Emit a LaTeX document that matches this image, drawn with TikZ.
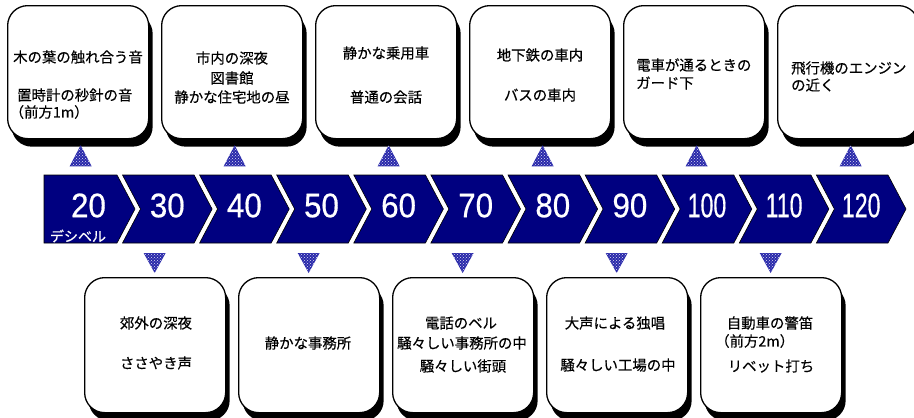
\documentclass[tikz,border=0pt]{standalone}
\usepackage{fontspec}
\newfontfamily\jp[FakeBold=0.35]{Noto Sans CJK JP}
\newfontfamily\numf[FakeBold=0.6]{Liberation Sans}
\usetikzlibrary{patterns,shadows,calc}
\definecolor{navy}{RGB}{0,0,128}
\definecolor{tricol}{RGB}{40,40,170}
\begin{document}
\begin{tikzpicture}[x=1pt,y=-1pt,
  sbox/.style={draw=black, line width=1.3pt, fill=white, rounded corners=20pt,
    minimum width=141pt, inner sep=0pt, anchor=north west,
    drop shadow={shadow xshift=4pt, shadow yshift=-8pt, fill=black, opacity=1}},
  topbox/.style={sbox, minimum height=133pt},
  botbox/.style={sbox, minimum height=135pt},
  chev/.style={fill=navy, draw=black, line width=0.6pt},
  num/.style={text=white, font=\numf\fontsize{34}{34}\selectfont, inner sep=0pt},
  lbl/.style={font=\jp\fontsize{14.4}{18}\selectfont, inner sep=0pt},
  lblw/.style={lbl, anchor=west},
  marker/.style={preaction={fill=tricol}, pattern=crosshatch dots, pattern color=white!85!tricol}
]
\useasboundingbox (0,0) rectangle (914,418);

% chevron band
\fill[chev] (44,175) -- (117,175) -- (135,209) -- (117,243) -- (44,243) -- cycle;
\node[num] (c20) at (88.5,205.5) {\scalebox{0.92}[1]{20}};
\node[text=white, font=\jp\fontsize{14}{14}\selectfont, inner sep=0pt] (db) at (78,236) {デシベル};
\foreach \i in {1,...,10} {
  \pgfmathsetmacro\R{117+77.1*\i}
  \pgfmathsetmacro\L{117+77.1*(\i-1)+5.5}
  \pgfmathtruncatemacro\v{20+10*\i}
  \fill[chev] (\L,175) -- (\R,175) -- (\R+18,209) -- (\R,243) -- (\L,243) -- (\L+18,209) -- cycle;
  \node[num] (c\v) at ({(\L+\R+18)/2},205.5) {\ifnum\v>99 \scalebox{0.68}[1]{\v}\else\scalebox{0.92}[1]{\v}\fi};
}

% top boxes
\foreach \i in {0,...,5} {
  \node[topbox] (t\i) at ({7+154*\i},5) {};
}
% bottom boxes
\foreach \i in {0,...,4} {
  \node[botbox] (b\i) at ({84+154*\i},277) {};
}

% markers
\foreach \i in {0,...,5} {
  \path[marker] ($(t\i.south)+(-8.5,27)$) -- ++(22,0) -- ++(-11,-21) -- cycle;
}
\foreach \i in {0,...,4} {
  \path[marker] ($(b\i.north)+(-11.5,-24)$) -- ++(22,0) -- ++(-11,20) -- cycle;
}

% top texts
\node[lbl] (t0a) at (78,57) {木の葉の触れ合う音};
\node[lblw] (t0b) at (17,95) {置時計の秒針の音};
\node[lblw] (t0c) at (9.5,112) {（前方1m）};
\node[lbl] (t1a) at (232,58) {市内の深夜};
\node[lbl] (t1b) at (232,78) {図書館};
\node[lbl] (t1c) at (232,97) {静かな住宅地の昼};
\node[lbl] (t2a) at (386,53) {静かな乗用車};
\node[lbl] (t2b) at (386,97) {普通の会話};
\node[lbl] (t3a) at (540,55) {地下鉄の車内};
\node[lbl] (t3b) at (540,95) {バスの車内};
\node[lblw] (t4a) at (636,65) {電車が通るときの};
\node[lblw] (t4b) at (636,83) {ガード下};
\node[lblw] (t5a) at (791,68) {飛行機のエンジン};
\node[lblw] (t5b) at (791,85) {の近く};

% bottom texts
\node[lbl] (b0a) at (156,323) {郊外の深夜};
\node[lbl] (b0b) at (156,363) {ささやき声};
\node[lbl] (b1a) at (308,343) {静かな事務所};
\node[lbl] (b2a) at (461,323) {電話のベル};
\node[lbl] (b2b) at (462,343) {騒々しい事務所の中};
\node[lbl] (b2c) at (463,366) {騒々しい街頭};
\node[lbl] (b3a) at (615,323) {大声による独唱};
\node[lbl] (b3b) at (618,365) {騒々しい工場の中};
\node[lbl] (b4a) at (770,323) {自動車の警笛};
\node[lblw] (b4b) at (715,341) {（前方2m）};
\node[lbl] (b4c) at (771,366) {リベット打ち};
\end{tikzpicture}
\end{document}
